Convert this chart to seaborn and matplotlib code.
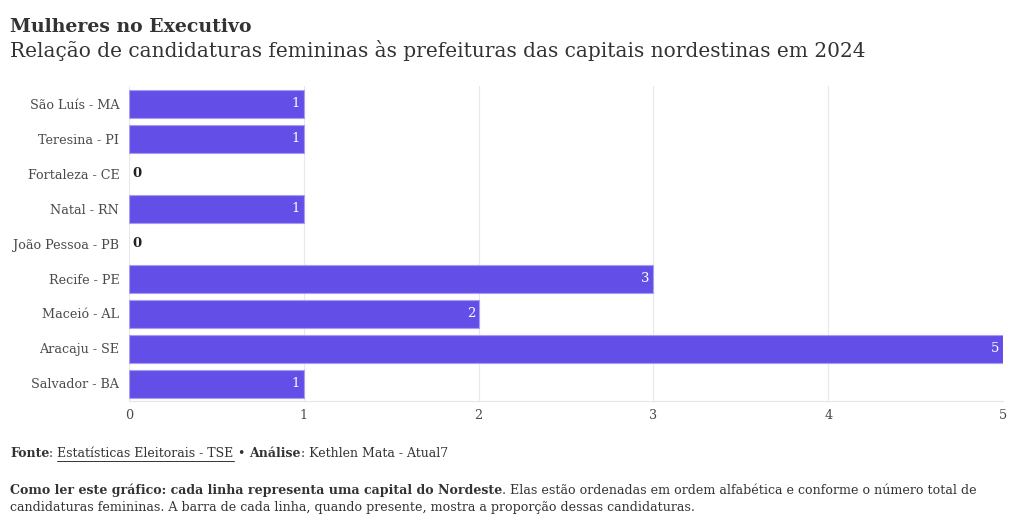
import matplotlib
matplotlib.use("Agg")
import matplotlib.pyplot as plt
from matplotlib.lines import Line2D
import seaborn as sns

# data, top to bottom as in the chart
capitais = ["São Luís - MA", "Teresina - PI", "Fortaleza - CE", "Natal - RN",
            "João Pessoa - PB", "Recife - PE", "Maceió - AL", "Aracaju - SE",
            "Salvador - BA"]
candidaturas = [1, 1, 0, 1, 0, 3, 2, 5, 1]
x_ticks = [0, 1, 2, 3, 4, 5]

titulo = "Mulheres no Executivo"
subtitulo = "Relação de candidaturas femininas às prefeituras das capitais nordestinas em 2024"

sns.set_theme(style="white")
plt.rcParams["font.family"] = ["DejaVu Serif"]

W, H = 1020, 526
fig = plt.figure(figsize=(W / 100, H / 100), dpi=100)
ax = fig.add_axes([129 / W, 1 - 401 / H, (1003 - 129) / W, (401 - 86) / H])

sns.barplot(x=candidaturas, y=capitais, orient="h", color="#634fe8",
            saturation=1, width=0.8, edgecolor="#a99cf3", linewidth=0.8, ax=ax)

# no outline on empty bars
for p in ax.patches:
    if p.get_width() == 0:
        p.set_linewidth(0)

ax.set_xlim(0, 5)
ax.set_xticks(x_ticks)
ax.set_xlabel("")
ax.set_ylabel("")
ax.grid(axis="x", color="#e8e8ec", linewidth=0.8)
ax.set_axisbelow(True)
for s in ["top", "right", "left"]:
    ax.spines[s].set_visible(False)
ax.spines["bottom"].set_color("#e6e6ea")
ax.spines["bottom"].set_linewidth(0.8)
ax.tick_params(axis="both", length=4, color="#e6e6ea", labelsize=9.2,
               labelcolor="#4a4a4a", pad=3)
ax.tick_params(axis="x", pad=2)

# value labels
for i, v in enumerate(candidaturas):
    if v > 0:
        ax.text(v - 0.02, i, str(v), ha="right", va="center", color="white",
                fontsize=9.5)
    else:
        ax.text(0.02, i, str(v), ha="left", va="center", color="#222222",
                fontsize=9.5, fontweight="bold")

# titles
fig.text(10 / W, 1 - 32 / H, titulo, fontsize=13.6, fontweight="bold",
         color="#333333", va="baseline")
fig.text(10 / W, 1 - 57 / H, subtitulo, fontsize=14.5, color="#333333",
         va="baseline")

renderer = fig.canvas.get_renderer()


def linha(pecas, x_px, y_px, size=9):
    x = x_px
    for txt, peso, sub in pecas:
        t = fig.text(x / W, 1 - y_px / H, txt, fontsize=size, fontweight=peso,
                     color="#333333", va="baseline")
        w = t.get_window_extent(renderer).width
        if sub:
            fig.add_artist(Line2D([x / W, (x + w) / W],
                                  [1 - (y_px + 4) / H, 1 - (y_px + 4) / H],
                                  transform=fig.transFigure, color="#333333",
                                  linewidth=0.7))
        x += w


linha([("Fonte", "bold", False), (": ", "normal", False),
       ("Estatísticas Eleitorais - TSE", "normal", True),
       (" • ", "normal", False), ("Análise", "bold", False),
       (": Kethlen Mata - Atual7", "normal", False)], 10, 457)
linha([("Como ler este gráfico: cada linha representa uma capital do Nordeste", "bold", False),
       (". Elas estão ordenadas em ordem alfabética e conforme o número total de", "normal", False)],
      10, 494, size=9.05)
linha([("candidaturas femininas. A barra de cada linha, quando presente, mostra a proporção dessas candidaturas.", "normal", False)],
      10, 511, size=9.05)

fig.savefig("out.png", dpi=100, facecolor="white")
